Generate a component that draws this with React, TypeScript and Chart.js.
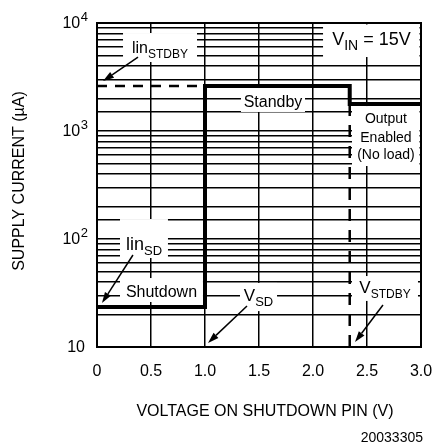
import React, { useEffect, useRef } from "react";
import { Chart, registerables } from "chart.js";

Chart.register(...registerables);

const FONT = '"Liberation Sans", Arial, sans-serif';

// Axis ticks and titles
const xTicks = [0, 0.5, 1.0, 1.5, 2.0, 2.5, 3.0];
const xTickLabels = ["0", "0.5", "1.0", "1.5", "2.0", "2.5", "3.0"];
const yTickValues = [10, 100, 1000, 10000];
const yTickBase = ["10", "10", "10", "10"];
const yTickExp = ["", "2", "3", "4"];
const xTitle = "VOLTAGE ON SHUTDOWN PIN (V)";
const yTitle = "SUPPLY CURRENT (µA)";
const figureId = "20033305";

// Supply current (µA) vs voltage on shutdown pin (V)
const curveX = [0, 1.0, 1.0, 2.34, 2.34, 3.0];
const curveY = [23.5, 23.5, 2610, 2610, 1780, 1780];
// linear standby extension (dashed)
const linStdbyX = [0, 1.0];
const linStdbyY = [2610, 2610];
// V_STDBY threshold marker (dashed)
const vStdbyX = [2.34, 2.34];
const vStdbyY = [1780, 10];

type Part = { t: string; sub?: boolean };
type Label = {
  box: [number, number, number, number]; // x0, x1 (V), yTop, yBottom (µA)
  size: number;
  subSize: number;
  lines: { parts: Part[]; y: number }[]; // baseline in µA
};

const labels: Label[] = [
  { box: [0.241, 0.926, 8076, 4353], size: 16, subSize: 12, lines: [{ parts: [{ t: "lin" }, { t: "STDBY", sub: true }], y: 5275 }] },
  { box: [2.093, 2.99, 9789, 4842], size: 18, subSize: 14, lines: [{ parts: [{ t: "V" }, { t: "IN", sub: true }, { t: " = 15V" }], y: 6250 }] },
  { box: [1.333, 1.926, 2500, 1500], size: 16, subSize: 12, lines: [{ parts: [{ t: "Standby" }], y: 1668 }] },
  {
    box: [2.361, 2.99, 1702, 474],
    size: 14,
    subSize: 11,
    lines: [
      { parts: [{ t: "Output" }], y: 1186 },
      { parts: [{ t: "Enabled" }], y: 791 },
      { parts: [{ t: "(No load)" }], y: 551 },
    ],
  },
  { box: [0.213, 0.657, 153, 66.7], size: 18, subSize: 13, lines: [{ parts: [{ t: "lin" }, { t: "SD", sub: true }], y: 79.1 }] },
  { box: [0.213, 0.981, 43.5, 26.1], size: 16, subSize: 12, lines: [{ parts: [{ t: "Shutdown" }], y: 29.0 }] },
  { box: [1.324, 1.667, 39.2, 21.5], size: 17, subSize: 13, lines: [{ parts: [{ t: "V" }, { t: "SD", sub: true }], y: 26.7 }] },
  { box: [2.361, 2.972, 45.4, 26.7], size: 17, subSize: 12, lines: [{ parts: [{ t: "V" }, { t: "STDBY", sub: true }], y: 31.6 }] },
];

// arrows: [fromX, fromY, toX, toY] in data units
const arrows: [number, number, number, number][] = [
  [0.38, 4842, 0.056, 2904],
  [0.333, 71.1, 0.046, 25.5],
  [1.389, 24.0, 1.028, 10.9],
  [2.648, 24.5, 2.389, 11.1],
];

const annotationPlugin = {
  id: "annotations",
  beforeDatasetsDraw(chart: any) {
    const { ctx, chartArea, scales } = chart;
    const xs = scales.x;
    const ys = scales.y;
    ctx.save();
    ctx.beginPath();
    ctx.rect(chartArea.left + 1.5, chartArea.top + 1.5, chartArea.right - chartArea.left - 3, chartArea.bottom - chartArea.top - 3);
    ctx.clip();
    ctx.fillStyle = "#fff";
    for (const l of labels) {
      const x0 = xs.getPixelForValue(l.box[0]);
      const x1 = xs.getPixelForValue(l.box[1]);
      const y0 = ys.getPixelForValue(l.box[2]);
      const y1 = ys.getPixelForValue(l.box[3]);
      ctx.fillRect(x0, y0, x1 - x0, y1 - y0);
    }
    ctx.restore();
  },
  afterDatasetsDraw(chart: any) {
    const { ctx, chartArea, scales } = chart;
    const xs = scales.x;
    const ys = scales.y;
    ctx.save();
    ctx.fillStyle = "#000";
    ctx.textBaseline = "alphabetic";
    ctx.textAlign = "left";
    for (const l of labels) {
      const cx = (xs.getPixelForValue(l.box[0]) + xs.getPixelForValue(l.box[1])) / 2;
      for (const line of l.lines) {
        let total = 0;
        const widths = line.parts.map((p) => {
          ctx.font = `${p.sub ? l.subSize : l.size}px ${FONT}`;
          const w = ctx.measureText(p.t).width;
          total += w;
          return w;
        });
        let x = cx - total / 2;
        const by = ys.getPixelForValue(line.y);
        line.parts.forEach((p, i) => {
          ctx.font = `${p.sub ? l.subSize : l.size}px ${FONT}`;
          ctx.fillText(p.t, x, p.sub ? by + 5 : by);
          x += widths[i];
        });
      }
    }
    // arrows
    ctx.strokeStyle = "#000";
    ctx.lineWidth = 1.5;
    for (const a of arrows) {
      const fx = xs.getPixelForValue(a[0]);
      const fy = ys.getPixelForValue(a[1]);
      const tx = xs.getPixelForValue(a[2]);
      const ty = ys.getPixelForValue(a[3]);
      const ang = Math.atan2(ty - fy, tx - fx);
      const len = 11;
      const hw = 3.5;
      const bx = tx - len * Math.cos(ang);
      const by = ty - len * Math.sin(ang);
      ctx.beginPath();
      ctx.moveTo(fx, fy);
      ctx.lineTo(bx, by);
      ctx.stroke();
      ctx.beginPath();
      ctx.moveTo(tx, ty);
      ctx.lineTo(bx + hw * Math.sin(ang), by - hw * Math.cos(ang));
      ctx.lineTo(bx - hw * Math.sin(ang), by + hw * Math.cos(ang));
      ctx.closePath();
      ctx.fill();
    }
    // frame
    ctx.lineWidth = 2;
    ctx.strokeRect(chartArea.left, chartArea.top, chartArea.right - chartArea.left, chartArea.bottom - chartArea.top);
    ctx.restore();
  },
  afterDraw(chart: any) {
    const { ctx, scales, chartArea } = chart;
    const ys = scales.y;
    ctx.save();
    ctx.fillStyle = "#000";
    const right = chartArea.left - 9;
    yTickValues.forEach((v, i) => {
      const py = ys.getPixelForValue(v);
      const exp = yTickExp[i];
      let x = right;
      if (exp) {
        ctx.font = `13px ${FONT}`;
        ctx.textAlign = "right";
        ctx.textBaseline = "alphabetic";
        ctx.fillText(exp, x, py - 2);
        x -= ctx.measureText(exp).width + 0.5;
      } else {
        x -= 3;
      }
      ctx.font = `16px ${FONT}`;
      ctx.textAlign = "right";
      ctx.textBaseline = "middle";
      ctx.fillText(yTickBase[i], x, py + 1);
    });
    // x axis title
    ctx.font = `16px ${FONT}`;
    ctx.textAlign = "center";
    ctx.textBaseline = "middle";
    ctx.fillText(xTitle, (chartArea.left + chartArea.right) / 2 + 6, chartArea.bottom + 65);
    // y axis title (reads bottom to top)
    ctx.save();
    ctx.translate(20, (chartArea.top + chartArea.bottom) / 2 - 4);
    ctx.rotate(-Math.PI / 2);
    ctx.fillText(yTitle, 0, 0);
    ctx.restore();
    // figure id
    ctx.font = `14px ${FONT}`;
    ctx.textAlign = "right";
    ctx.textBaseline = "alphabetic";
    ctx.fillText(figureId, 423, 442);
    ctx.restore();
  },
};

export default function App() {
  const ref = useRef<HTMLCanvasElement | null>(null);
  useEffect(() => {
    if (!ref.current) return;
    const toPts = (xa: number[], ya: number[]) => xa.map((x, i) => ({ x, y: ya[i] }));
    const chart = new Chart(ref.current, {
      type: "line",
      data: {
        datasets: [
          {
            data: toPts(curveX, curveY),
            borderColor: "#000",
            borderWidth: 4,
            pointRadius: 0,
            fill: false,
            tension: 0,
            borderJoinStyle: "miter",
            borderCapStyle: "butt",
          },
          {
            data: toPts(linStdbyX, linStdbyY),
            borderColor: "#000",
            borderWidth: 2.5,
            borderDash: [10, 8],
            pointRadius: 0,
            fill: false,
          },
          {
            data: toPts(vStdbyX, vStdbyY),
            borderColor: "#000",
            borderWidth: 2.5,
            borderDash: [12, 9],
            pointRadius: 0,
            fill: false,
          },
        ],
      },
      options: {
        responsive: false,
        animation: false,
        devicePixelRatio: 1,
        layout: { padding: { top: 23, right: 14, left: 0, bottom: 0 } },
        plugins: {
          legend: { display: false },
          tooltip: { enabled: false },
        },
        scales: {
          x: {
            type: "linear",
            min: 0,
            max: 3,
            afterBuildTicks: (s: any) => {
              s.ticks = xTicks.map((v) => ({ value: v }));
            },
            ticks: {
              callback: (v: any) => xTickLabels[xTicks.indexOf(Number(v))],
              font: { family: FONT, size: 16 },
              color: "#000",
              padding: 15,
              maxRotation: 0,
              autoSkip: false,
            },
            grid: { color: "#000", lineWidth: 1.5, drawTicks: false },
            border: { display: false },
            title: { display: false },
            afterFit: (s: any) => {
              s.height = 98;
              s.paddingLeft = 0;
              s.paddingRight = 0;
            },
          },
          y: {
            type: "logarithmic",
            min: 10,
            max: 10000,
            ticks: { display: false, autoSkip: false },
            grid: { color: "#000", lineWidth: 1.5, drawTicks: false },
            border: { display: false },
            title: { display: false },
            afterFit: (s: any) => {
              s.width = 97;
              s.paddingTop = 0;
              s.paddingBottom = 0;
            },
          },
        },
      },
      plugins: [annotationPlugin],
    } as any);
    return () => chart.destroy();
  }, []);
  return (
    <div style={{ position: "absolute", left: 0, top: 0, width: 435, height: 445, background: "#fff" }}>
      <canvas ref={ref} width={435} height={445} style={{ display: "block" }} />
    </div>
  );
}
